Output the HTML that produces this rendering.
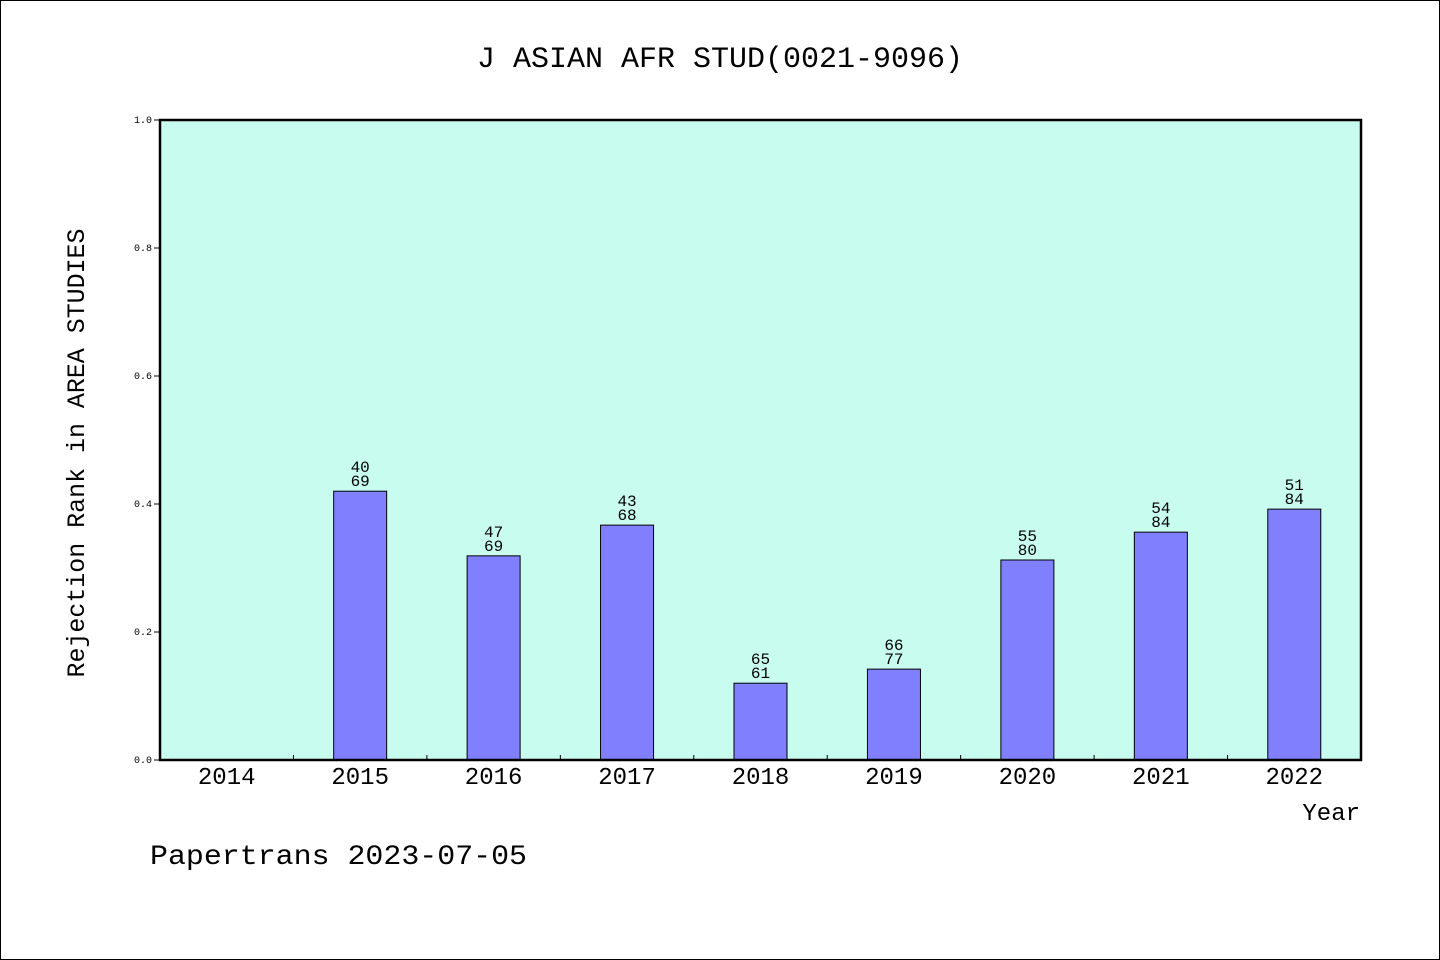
<!DOCTYPE html>
<html><head><meta charset="utf-8"><style>
html,body{margin:0;padding:0;background:#fff;}
svg{display:block;font-family:"Liberation Mono","WenQuanYi Zen Hei",monospace;}
</style></head><body>
<svg id="chart" width="1440" height="960" xmlns="http://www.w3.org/2000/svg">
<rect x="0.5" y="0.5" width="1439" height="959" fill="#fff" stroke="#000"/>
<text x="720" y="67" font-size="30" text-anchor="middle">J ASIAN AFR STUD(0021-9096)</text>
<rect x="160" y="120" width="1201" height="640" fill="#c8fcee"/>
<g id="bars"></g>
<g id="yaxis"></g>
<g id="xaxis"></g>
<rect x="160" y="120" width="1201" height="640" fill="none" stroke="#000" stroke-width="2.5"/>
<text transform="translate(84,453) rotate(-90)" font-size="25" text-anchor="middle" textLength="449" lengthAdjust="spacingAndGlyphs">Rejection Rank in AREA STUDIES</text>
<text x="1360" y="820" font-size="24" text-anchor="end">Year</text>
<text x="150" y="864" font-size="28" textLength="377" lengthAdjust="spacingAndGlyphs">Papertrans 2023-07-05</text>
</svg>
<script>
const categories=["2014","2015","2016","2017","2018","2019","2020","2021","2022"];
const values=[null,0.420,0.319,0.367,0.120,0.142,0.3125,0.356,0.392];
const ranks=[null,"40","47","43","65","66","55","54","51"];
const totals=[null,"69","69","68","61","77","80","84","84"];
const yTicks=["0.0","0.2","0.4","0.6","0.8","1.0"];
const NS="http://www.w3.org/2000/svg";
const x0=160,x1=1361,y0=760,y1=120;
const band=(x1-x0)/categories.length;
const xc=i=>x0+band*(i+0.5);
const ys=v=>y0-(v)*(y0-y1);
function mk(t,a,p){const e=document.createElementNS(NS,t);for(const k in a)e.setAttribute(k,a[k]);p.appendChild(e);return e;}
const bars=document.getElementById('bars'),ya=document.getElementById('yaxis'),xa=document.getElementById('xaxis');
categories.forEach((c,i)=>{
  const v=values[i];
  if(v!==null){
    const r=mk('rect',{x:xc(i)-26.5,y:ys(v),width:53,height:y0-ys(v),fill:'#8080ff',stroke:'#000','stroke-width':1},bars);
    
    
    const t1=mk('text',{x:xc(i),y:ys(v)-19,'font-size':16,'text-anchor':'middle'},bars);t1.textContent=ranks[i];
    
    
    const t2=mk('text',{x:xc(i),y:ys(v)-5,'font-size':16,'text-anchor':'middle'},bars);t2.textContent=totals[i];
    
    
  }
  const l=mk('text',{x:xc(i),y:784,'font-size':24,'text-anchor':'middle'},xa);l.textContent=c;
  
  
  if(i>0){const tk=mk('line',{x1:x0+band*i,x2:x0+band*i,y1:y0,y2:y0-5,stroke:'#000'},xa);
    
    }
});
yTicks.forEach(t=>{
  const v=parseFloat(t);
  const tk=mk('line',{x1:x0-6,x2:x0,y1:ys(v),y2:ys(v),stroke:'#000'},ya);
  
  
  const l=mk('text',{x:152,y:ys(v)+3,'font-size':10,'text-anchor':'end'},ya);l.textContent=t;
  
  
});
</script>
</body></html>
